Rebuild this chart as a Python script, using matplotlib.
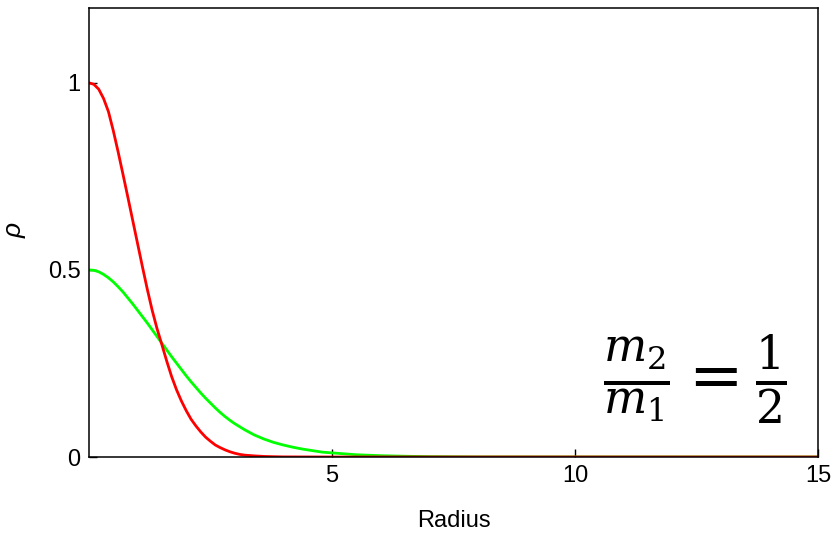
import matplotlib
matplotlib.use("Agg")
import matplotlib.pyplot as plt

plt.rcParams['font.family'] = ['Liberation Sans', 'DejaVu Sans']
plt.rcParams['mathtext.fontset'] = 'dejavuserif'

# Data
radius_red = [0.0, 0.1, 0.2, 0.3, 0.4, 0.5, 0.6, 0.7, 0.8, 0.9, 1.0, 1.1, 1.2, 1.3,
              1.4, 1.5, 1.6, 1.7, 1.8, 1.9, 2.0, 2.1, 2.2, 2.3, 2.4, 2.5, 2.6, 2.7,
              2.8, 2.9, 3.0, 3.1, 3.2, 3.4, 3.6, 3.8, 4.0, 5.0, 15.0]
rho_red = [1.0, 0.996, 0.983, 0.958, 0.923, 0.872, 0.815, 0.755, 0.694, 0.632, 0.570,
           0.508, 0.448, 0.392, 0.343, 0.300, 0.256, 0.215, 0.180, 0.150, 0.124,
           0.101, 0.083, 0.067, 0.053, 0.042, 0.032, 0.025, 0.019, 0.014, 0.010,
           0.007, 0.005, 0.003, 0.0015, 0.0008, 0.0003, 0.0, 0.0]

radius_green = [0.0, 0.1, 0.2, 0.3, 0.4, 0.5, 0.6, 0.7, 0.8, 0.9, 1.0, 1.1, 1.2, 1.3,
                1.4, 1.5, 1.6, 1.7, 1.8, 1.9, 2.0, 2.1, 2.2, 2.3, 2.4, 2.5, 2.6, 2.7,
                2.8, 2.9, 3.0, 3.2, 3.4, 3.6, 3.8, 4.0, 4.2, 4.4, 4.6, 4.8, 5.0, 5.5,
                6.0, 6.5, 7.0, 8.0, 15.0]
rho_green = [0.5, 0.499, 0.495, 0.488, 0.479, 0.468, 0.455, 0.441, 0.425, 0.409, 0.392,
             0.375, 0.358, 0.340, 0.322, 0.304, 0.286, 0.268, 0.251, 0.234, 0.217,
             0.201, 0.186, 0.171, 0.157, 0.144, 0.131, 0.119, 0.108, 0.098, 0.089,
             0.073, 0.059, 0.048, 0.039, 0.032, 0.026, 0.021, 0.017, 0.013, 0.011,
             0.006, 0.0035, 0.002, 0.001, 0.0002, 0.0]

xticks = [5, 10, 15]
yticks = [0, 0.5, 1]
ytick_labels = ['0', '0.5', '1']

fig = plt.figure(figsize=(8.34, 5.34), dpi=100)
ax = fig.add_axes([89/834, 77/534, (818-89)/834, (457-8)/534])

ax.plot(radius_green, rho_green, color='#00ff00', lw=2.0, solid_joinstyle='round')
ax.plot(radius_red, rho_red, color='#ff0000', lw=2.0, solid_joinstyle='round')

ax.set_xlim(0, 15)
ax.set_ylim(0, 1.2)
ax.set_xticks(xticks)
ax.set_xticklabels([str(t) for t in xticks])
ax.set_yticks(yticks)
ax.set_yticklabels(ytick_labels)
ax.tick_params(direction='in', length=6, width=1, labelsize=17, pad=6,
               top=False, right=False)
for s in ax.spines.values():
    s.set_linewidth(1.1)

ax.set_xlabel('Radius', fontsize=17, labelpad=16)
ax.set_ylabel('ρ', fontsize=19, style='italic')
ax.yaxis.set_label_coords(-0.085, 0.505)

ax.text(0.831, 0.171, r'$\frac{m_2}{m_1}=\frac{1}{2}$', transform=ax.transAxes,
        fontsize=47, ha='center', va='center')

fig.savefig('out.png', dpi=100)
